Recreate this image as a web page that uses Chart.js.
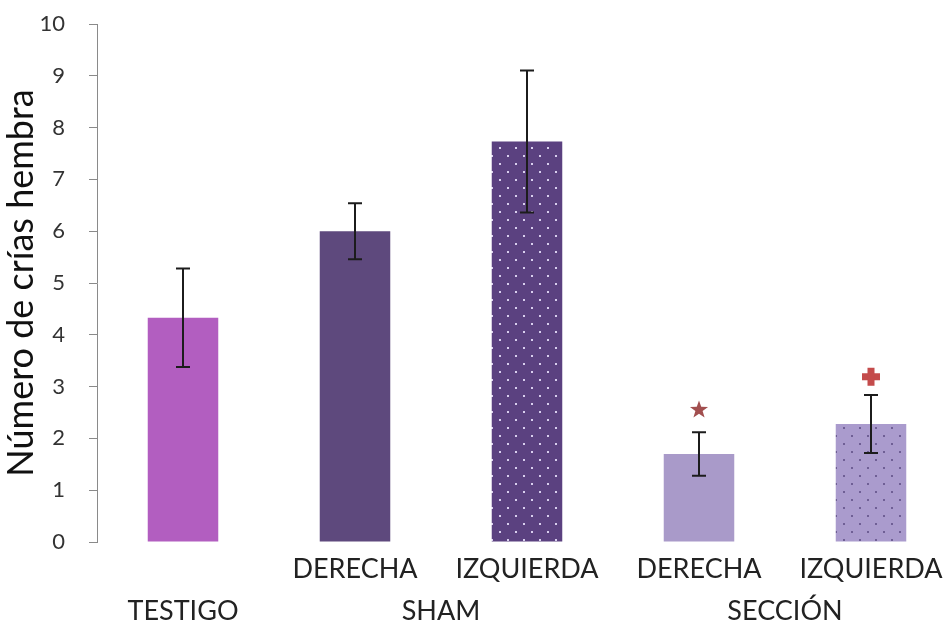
<!DOCTYPE html>
<html>
<head>
<meta charset="utf-8">
<script src="https://cdn.jsdelivr.net/npm/chart.js@4"></script>
<style>
  html, body { margin: 0; padding: 0; background: #fff; overflow: hidden; }
  #wrap { width: 960px; height: 626px; position: relative; }
</style>
</head>
<body>
<div id="wrap"><canvas id="crias"></canvas></div>
<script>
const tickLabels = ['', 'DERECHA', 'IZQUIERDA', 'DERECHA', 'IZQUIERDA'];
const groupLabels = ['TESTIGO', 'SHAM', 'SECCIÓN'];
const groupSpans = [[0, 0], [1, 2], [3, 4]];
const means = [4.33, 6.0, 7.73, 1.70, 2.28];
const errors = [0.95, 0.54, 1.37, 0.42, 0.56];
const sigMarks = ['', '', '', 'star', 'plus'];
const sigValues = [0, 0, 0, 2.55, 3.19];
const yTicks = [0, 1, 2, 3, 4, 5, 6, 7, 8, 9, 10];

const FONT = 'Lato, "Open Sans", sans-serif';

function dots(bg, dot) {
  const c = document.createElement('canvas');
  c.width = 16; c.height = 16;
  const g = c.getContext('2d');
  g.fillStyle = bg; g.fillRect(0, 0, 16, 16);
  g.fillStyle = dot;
  g.fillRect(3, 3, 2, 2);
  g.fillRect(11, 11, 2, 2);
  return g.createPattern(c, 'repeat');
}

const barColors = [
  '#b25ec0',
  '#5e497d',
  dots('#5b4180', '#d9cfee'),
  '#a99ac9',
  dots('#aa9bcd', '#6f5f95')
];

// error bars and significance marks on top of the bars
const extras = {
  id: 'extras',
  afterDatasetsDraw(chart) {
    const ctx = chart.ctx;
    const y = chart.scales.y;
    const meta = chart.getDatasetMeta(0);
    ctx.save();
    ctx.strokeStyle = '#1c1c1c';
    ctx.lineWidth = 2;
    means.forEach((m, i) => {
      const x = meta.data[i].x;
      const yt = y.getPixelForValue(m + errors[i]);
      const yb = y.getPixelForValue(m - errors[i]);
      ctx.beginPath();
      ctx.moveTo(x, yt); ctx.lineTo(x, yb);
      ctx.moveTo(x - 7, yt); ctx.lineTo(x + 7, yt);
      ctx.moveTo(x - 7, yb); ctx.lineTo(x + 7, yb);
      ctx.stroke();
    });
    sigMarks.forEach((s, i) => {
      if (!s) return;
      const x = meta.data[i].x;
      const cy = y.getPixelForValue(sigValues[i]);
      ctx.beginPath();
      if (s === 'star') {
        ctx.fillStyle = '#a24f4f';
        for (let k = 0; k < 10; k++) {
          const r = k % 2 ? 3.8 : 9.5;
          const a = -Math.PI / 2 + k * Math.PI / 5;
          ctx.lineTo(x + r * Math.cos(a), cy + r * Math.sin(a));
        }
        ctx.closePath();
        ctx.fill();
      } else {
        ctx.fillStyle = '#c44b4b';
        ctx.fillRect(x - 9, cy - 3.5, 18, 7);
        ctx.fillRect(x - 3.5, cy - 9, 7, 18);
      }
    });
    ctx.restore();
  }
};

// group names under the category labels
const groups = {
  id: 'groups',
  afterDraw(chart) {
    const ctx = chart.ctx;
    const xs = chart.scales.x;
    ctx.save();
    ctx.font = '27px ' + FONT;
    ctx.fillStyle = '#222';
    ctx.textAlign = 'center';
    ctx.textBaseline = 'middle';
    groupLabels.forEach((g, i) => {
      const a = xs.getPixelForValue(groupSpans[i][0]);
      const b = xs.getPixelForValue(groupSpans[i][1]);
      ctx.fillText(g, (a + b) / 2, 611);
    });
    ctx.restore();
  }
};

new Chart(document.getElementById('crias'), {
  type: 'bar',
  data: {
    labels: tickLabels,
    datasets: [{
      data: means,
      backgroundColor: barColors,
      borderWidth: 0,
      barPercentage: 0.41,
      categoryPercentage: 1
    }]
  },
  options: {
    responsive: true,
    maintainAspectRatio: false,
    animation: false,
    layout: { padding: { top: 24, right: 3, left: 0, bottom: 0 } },
    plugins: {
      legend: { display: false },
      tooltip: { enabled: false }
    },
    scales: {
      x: {
        grid: { display: false },
        border: { display: false },
        ticks: {
          color: '#222',
          padding: 3,
          font: { family: FONT, size: 27 },
          maxRotation: 0,
          autoSkip: false
        },
        afterFit(s) { s.height = 84; }
      },
      y: {
        min: 0,
        max: 10,
        afterBuildTicks(s) { s.ticks = yTicks.map(v => ({ value: v })); },
        grid: { drawOnChartArea: false, tickLength: 8, color: '#8a8a8a', lineWidth: 1 },
        border: { color: '#8a8a8a', width: 1 },
        ticks: {
          color: '#333',
          padding: 24,
          font: { family: FONT, size: 22 }
        },
        title: {
          display: true,
          text: 'Número de crías hembra',
          color: '#111',
          padding: { top: 0, bottom: 0 },
          font: { family: FONT, size: 36 }
        },
        afterFit(s) {
          s.width = 97;
          s.paddingTop = 0;
          s.paddingBottom = 0;
        }
      }
    }
  },
  plugins: [extras, groups]
});
</script>
</body>
</html>
